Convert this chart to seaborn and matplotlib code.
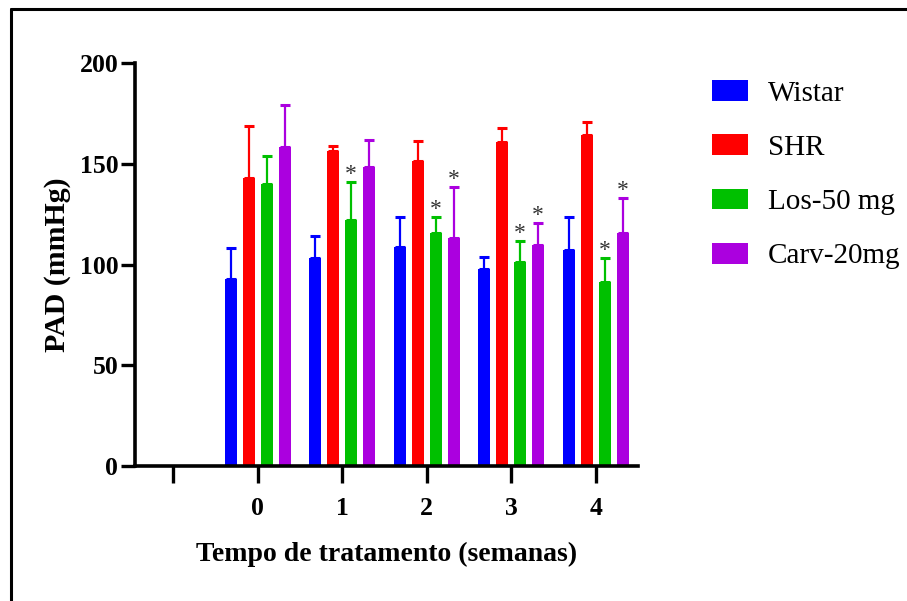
import numpy as np
import pandas as pd
import matplotlib
matplotlib.use("Agg")
import matplotlib.pyplot as plt
from matplotlib.lines import Line2D
from matplotlib.patches import Patch
import seaborn as sns

# ---- data ----
weeks = ["0", "1", "2", "3", "4"]
groups = ["Wistar", "SHR", "Los-50 mg", "Carv-20mg"]
wistar = [93, 103, 108.5, 98, 107]
shr = [143, 156.5, 151.5, 161, 164.5]
los = [140, 122, 115.5, 101, 91.5]
carv = [158.5, 148.5, 113, 109.5, 115.5]
wistar_err = [15, 11, 15, 5.5, 16.5]
shr_err = [25.5, 2.5, 10, 6.5, 6]
los_err = [14, 19, 8, 10.5, 11.5]
carv_err = [20.5, 13.5, 25.5, 11, 17.5]
wistar_sig = [False, False, False, False, False]
shr_sig = [False, False, False, False, False]
los_sig = [False, True, True, True, True]
carv_sig = [False, False, True, True, True]
order = [""] + weeks
colors = ["#0000FF", "#FF0000", "#00C000", "#AB00DF"]

means = {"Wistar": wistar, "SHR": shr, "Los-50 mg": los, "Carv-20mg": carv}
errs = {"Wistar": wistar_err, "SHR": shr_err, "Los-50 mg": los_err, "Carv-20mg": carv_err}
sigs = {"Wistar": wistar_sig, "SHR": shr_sig, "Los-50 mg": los_sig, "Carv-20mg": carv_sig}

rows = []
for g in groups:
    for w, v in zip(weeks, means[g]):
        rows.append({"semana": w, "grupo": g, "PAD": v})
df = pd.DataFrame(rows)

sns.set_style("ticks")
plt.rcParams["font.family"] = ["Liberation Serif", "DejaVu Serif"]
plt.rcParams["text.color"] = "black"
plt.rcParams["axes.labelcolor"] = "black"
plt.rcParams["xtick.color"] = "black"
plt.rcParams["ytick.color"] = "black"

fig = plt.figure(figsize=(9.07, 6.01), dpi=100)
ax = fig.add_axes([135 / 907, 1 - 466 / 601, (638 - 135) / 907, (466 - 63) / 601])

sns.barplot(data=df, x="semana", y="PAD", hue="grupo", order=order,
            hue_order=groups, palette=colors, errorbar=None,
            width=0.853, gap=0.333, saturation=1, ax=ax, legend=False,
            linewidth=0)

for g, col, cont in zip(groups, colors, ax.containers):
    for bar in cont:
        xc = bar.get_x() + bar.get_width() / 2
        idx = int(round(xc)) - 1
        if idx < 0 or idx >= len(weeks):
            continue
        h = means[g][idx]
        e = errs[g][idx]
        ax.errorbar([xc], [h], yerr=[[0], [e]], fmt="none", ecolor=col,
                    elinewidth=1.6, capsize=3.5, capthick=2.2, zorder=3)
        if sigs[g][idx]:
            ax.annotate("*", (xc, h + e), xytext=(0, -2), textcoords="offset points",
                        ha="center", va="bottom", fontsize=17, color="#333333")

ax.set_xlim(-0.45, 5.5)
ax.set_ylim(0, 200)
ax.set_yticks([0, 50, 100, 150, 200])
ax.set_xticks(range(len(order)))
ax.set_xticklabels(order)
for s in ["top", "right"]:
    ax.spines[s].set_visible(False)
for s in ["left", "bottom"]:
    ax.spines[s].set_linewidth(2.6)
    ax.spines[s].set_color("black")
ax.tick_params(axis="y", length=10, width=2.4, pad=2, labelsize=18.5, color="black", labelcolor="black")
ax.tick_params(axis="x", length=12, width=2.4, pad=10, labelsize=18.5, color="black", labelcolor="black")
for lab in ax.get_xticklabels() + ax.get_yticklabels():
    lab.set_fontweight("bold")

ax.set_xlabel("Tempo de tratamento (semanas)", fontsize=20, fontweight="bold", labelpad=16, color="black")
ax.set_ylabel("PAD (mmHg)", fontsize=21.5, fontweight="bold", labelpad=6, color="black")

handles = [Patch(facecolor=c, edgecolor="none") for c in colors]
leg = fig.legend(handles, groups, loc="upper left", bbox_to_anchor=(712 / 907, 1 - 80 / 601),
                 frameon=False, fontsize=21, handlelength=1.23, handleheight=0.72,
                 handletextpad=0.68, labelspacing=0.95, borderaxespad=0, borderpad=0)
for t in leg.get_texts():
    t.set_color("black")

# outer frame (left and top edges visible)
fig.add_artist(Line2D([11 / 907, 11 / 907], [0, 1 - 9 / 601], transform=fig.transFigure,
                      color="black", linewidth=2.2))
fig.add_artist(Line2D([11 / 907, 1], [1 - 9 / 601, 1 - 9 / 601], transform=fig.transFigure,
                      color="black", linewidth=2.2))

fig.savefig("out.png", dpi=100)
